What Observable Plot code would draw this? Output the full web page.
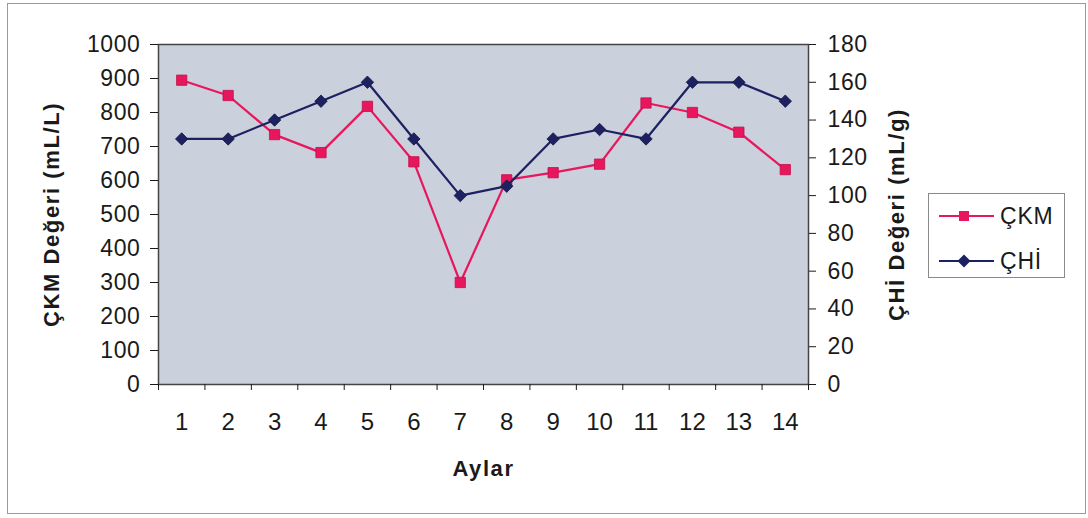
<!DOCTYPE html>
<html>
<head>
<meta charset="utf-8">
<script src="https://cdn.jsdelivr.net/npm/d3@7"></script>
<script src="https://cdn.jsdelivr.net/npm/@observablehq/plot@0.6"></script>
<style>
  html, body { margin: 0; padding: 0; background: #ffffff; }
  #wrap { position: relative; width: 1088px; height: 518px; overflow: hidden; }
  #border { position: absolute; left: 7px; top: 3px; width: 1077px; height: 509px; border: 1px solid #9a9a9a; pointer-events: none; }
  #legend { position: absolute; left: 928px; top: 193px; width: 135px; height: 83px; border: 1px solid #8a8a8a; background: #fff; }
  #chart svg g[aria-label="y-axis tick label"] text { letter-spacing: 0.6px; }
  #chart svg g[aria-label="y-axis label"] text,
  #chart svg g[aria-label="x-axis label"] text { font-weight: bold; letter-spacing: 1.6px; }
</style>
</head>
<body>
<div id="wrap">
  <div id="chart"></div>
  <div id="border"></div>
  <div id="legend"></div>
</div>
<script>
// ---- data ----
const months = [1, 2, 3, 4, 5, 6, 7, 8, 9, 10, 11, 12, 13, 14];
const ckm = [895, 850, 735, 682, 818, 655, 300, 602, 623, 648, 828, 800, 742, 632]; // ÇKM (mL/L), left axis
const chi = [130, 130, 140, 150, 160, 130, 100, 105, 130, 135, 130, 160, 160, 150];   // ÇHİ (mL/g), right axis
const leftTicks = [0, 100, 200, 300, 400, 500, 600, 700, 800, 900, 1000];
const rightTicks = [0, 20, 40, 60, 80, 100, 120, 140, 160, 180];
const seriesNames = ["ÇKM", "ÇHİ"];

const leftMax = 1000, rightMax = 180;
const k = leftMax / rightMax; // map right-axis values onto the left scale

const pink = "#e8175d";
const navy = "#1d2161";
const font = "'Liberation Sans', Arial, sans-serif";

const rows = months.map((m, i) => ({month: m, ckm: ckm[i], chi: chi[i]}));
const boundaries = months.map(m => m - 0.5).concat([months[months.length - 1] + 0.5]);

const chart = Plot.plot({
  width: 1088,
  height: 518,
  marginLeft: 158,
  marginRight: 280,
  marginTop: 44,
  marginBottom: 134,
  style: {fontFamily: font, fontSize: "23px", color: "#1a1a1a", background: "transparent", overflow: "visible"},
  x: {type: "linear", domain: [0.5, 14.5]},
  y: {domain: [0, leftMax]},
  marks: [
    Plot.frame({fill: "#cad0dc", stroke: "#444", strokeWidth: 1.5}),
    Plot.axisY(leftTicks, {anchor: "left", tickSize: 8, tickPadding: 10, fontSize: 23,
      tickFormat: d => String(d),
      label: "ÇKM Değeri (mL/L)", labelAnchor: "center", labelOffset: 115, labelArrow: "none"}),
    Plot.axisY(rightTicks.map(v => v * k), {anchor: "right", tickSize: 7, tickPadding: 12, fontSize: 23,
      tickFormat: d => String(Math.round(d / k)),
      label: "ÇHİ Değeri (mL/g)", labelAnchor: "center", labelOffset: 95, labelArrow: "none"}),
    Plot.axisX(boundaries, {anchor: "bottom", tickSize: 6, tickFormat: () => "", label: null}),
    Plot.axisX(months, {anchor: "bottom", tickSize: 0, tickPadding: 28, fontSize: 24,
      tickFormat: d => String(d),
      label: "Aylar", labelAnchor: "center", labelOffset: 91, labelArrow: "none"}),
    Plot.line(rows, {x: "month", y: "ckm", stroke: pink, strokeWidth: 2.2}),
    Plot.dot(rows, {x: "month", y: "ckm", symbol: "square", r: 5.8, fill: pink, stroke: "#c0104a", strokeWidth: 0.8}),
    Plot.line(rows, {x: "month", y: d => d.chi * k, stroke: navy, strokeWidth: 2.2}),
    Plot.dot(rows, {x: "month", y: d => d.chi * k, symbol: "diamond2", r: 5.6, fill: navy, stroke: "#14173f", strokeWidth: 0.8})
  ]
});
// bold, larger axis titles
chart.querySelectorAll('g[aria-label="y-axis label"] text, g[aria-label="x-axis label"] text')
  .forEach(t => t.setAttribute("font-size", 22));
document.getElementById("chart").appendChild(chart);

// ---- legend ----
const legend = document.getElementById("legend");
const ns = "http://www.w3.org/2000/svg";
const lsvg = document.createElementNS(ns, "svg");
lsvg.setAttribute("width", 135);
lsvg.setAttribute("height", 83);
const entries = [
  {name: seriesNames[0], color: pink, shape: "square", cy: 22},
  {name: seriesNames[1], color: navy, shape: "diamond", cy: 67}
];
entries.forEach(e => {
  const line = document.createElementNS(ns, "line");
  line.setAttribute("x1", 10); line.setAttribute("x2", 65);
  line.setAttribute("y1", e.cy); line.setAttribute("y2", e.cy);
  line.setAttribute("stroke", e.color); line.setAttribute("stroke-width", 2);
  lsvg.appendChild(line);
  const mk = document.createElementNS(ns, "path");
  const cx = 35, s = 5;
  const d = e.shape === "square"
    ? `M${cx - s},${e.cy - s}h${2 * s}v${2 * s}h${-2 * s}Z`
    : `M${cx},${e.cy - 6.5}L${cx + 6.5},${e.cy}L${cx},${e.cy + 6.5}L${cx - 6.5},${e.cy}Z`;
  mk.setAttribute("d", d);
  mk.setAttribute("fill", e.color);
  lsvg.appendChild(mk);
  const t = document.createElementNS(ns, "text");
  t.setAttribute("x", 71); t.setAttribute("y", e.cy + 8);
  t.setAttribute("font-family", font); t.setAttribute("font-size", 23);
  t.setAttribute("letter-spacing", "0.8px");
  t.setAttribute("fill", "#1a1a1a");
  t.textContent = e.name;
  lsvg.appendChild(t);
});
legend.appendChild(lsvg);
</script>
</body>
</html>
